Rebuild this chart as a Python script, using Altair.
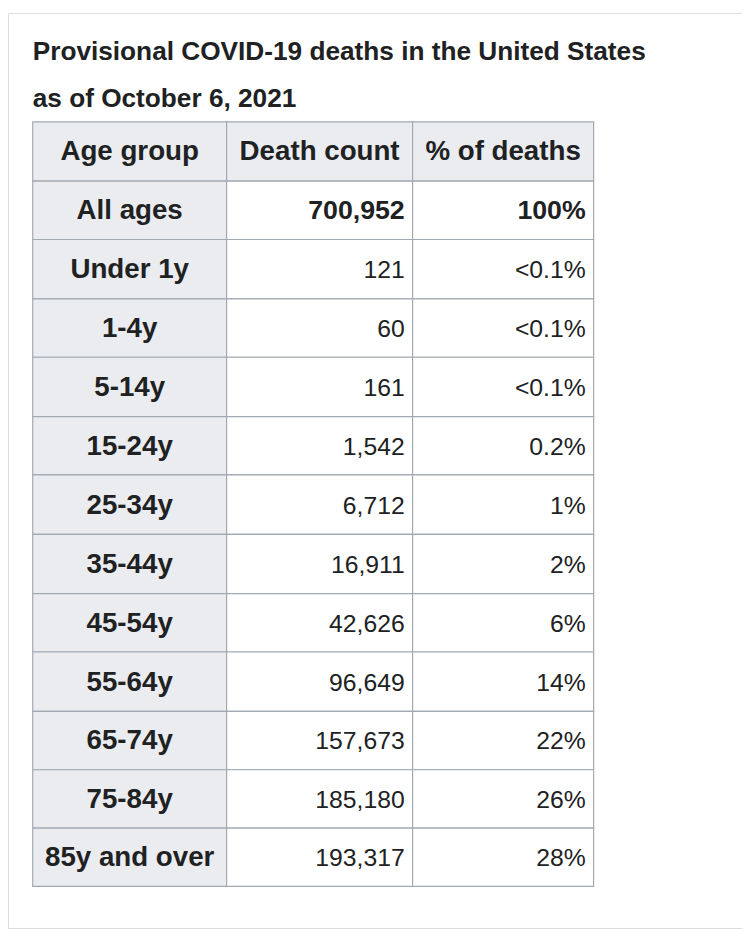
import altair as alt
import pandas as pd

title_lines = ["Provisional COVID-19 deaths in the United States", "as of October 6, 2021"]
headers = ["Age group", "Death count", "% of deaths"]
age_groups = ["All ages", "Under 1y", "1-4y", "5-14y", "15-24y", "25-34y", "35-44y",
              "45-54y", "55-64y", "65-74y", "75-84y", "85y and over"]
death_counts = ["700,952", "121", "60", "161", "1,542", "6,712", "16,911",
                "42,626", "96,649", "157,673", "185,180", "193,317"]
pct_deaths = ["100%", "<0.1%", "<0.1%", "<0.1%", "0.2%", "1%", "2%",
              "6%", "14%", "22%", "26%", "28%"]

# layout (page pixel coordinates)
col_edges = [33, 229, 417, 600]
row_edges = [118, 178, 237, 297, 356, 416, 475, 535, 595, 654, 714, 773, 832, 891]
FONT = "Liberation Sans"

cells, texts = [], []
rows = [headers] + [[a, d, p] for a, d, p in zip(age_groups, death_counts, pct_deaths)]
for r, row in enumerate(rows):
    y0, y1 = row_edges[r], row_edges[r + 1]
    for c, val in enumerate(row):
        x0, x1 = col_edges[c], col_edges[c + 1]
        is_head = r == 0 or c == 0
        cells.append({"x": x0, "x2": x1, "y": y0, "y2": y1,
                      "fill": "#eaecf0" if is_head else "#ffffff"})
        if is_head:
            tx, align = (x0 + x1) / 2, "center"
        else:
            tx, align = x1 - 8, "right"
        bold = is_head or r == 1
        texts.append({"x": tx, "y": (y0 + y1) / 2 + 1, "t": val, "align": align,
                      "bold": bold})

cells_df = pd.DataFrame(cells)
texts_df = pd.DataFrame(texts)
title_df = pd.DataFrame({"x": [33, 33], "y": [48, 95], "t": title_lines})

X = lambda f: alt.X(f, type="quantitative", scale=alt.Scale(domain=[8, 750]), axis=None)
Y = lambda f: alt.Y(f, type="quantitative", scale=alt.Scale(domain=[8, 933], reverse=True), axis=None)

rects = alt.Chart(cells_df).mark_rect(stroke="#a2a9b1", strokeWidth=1.2).encode(
    x=X("x"), x2="x2", y=Y("y"), y2="y2", fill=alt.Fill("fill:N", scale=None))

layers = [rects]
for align in ["center", "right"]:
    for bold in [True, False]:
        sub = texts_df[(texts_df["align"] == align) & (texts_df["bold"] == bold)]
        if len(sub) == 0:
            continue
        size = 28 if (bold and align == "center") else (27 if bold else 25)
        layers.append(alt.Chart(sub).mark_text(
            align=align, baseline="middle", font=FONT, fontSize=size,
            fontWeight="bold" if bold else "normal", color="#202122").encode(
            x=X("x"), y=Y("y"), text="t:N"))

title = alt.Chart(title_df).mark_text(
    align="left", baseline="middle", font=FONT, fontSize=26.5, fontWeight="bold",
    color="#202122").encode(x=X("x"), y=Y("y"), text="t:N")
layers.append(title)

chart = alt.layer(*layers).properties(
    width=742, height=925, padding=0, autosize=alt.AutoSizeParams(type="none")
).configure_view(stroke=None).configure(background="white")

chart.save("out.html", embed_options={"renderer": "svg", "actions": False})
